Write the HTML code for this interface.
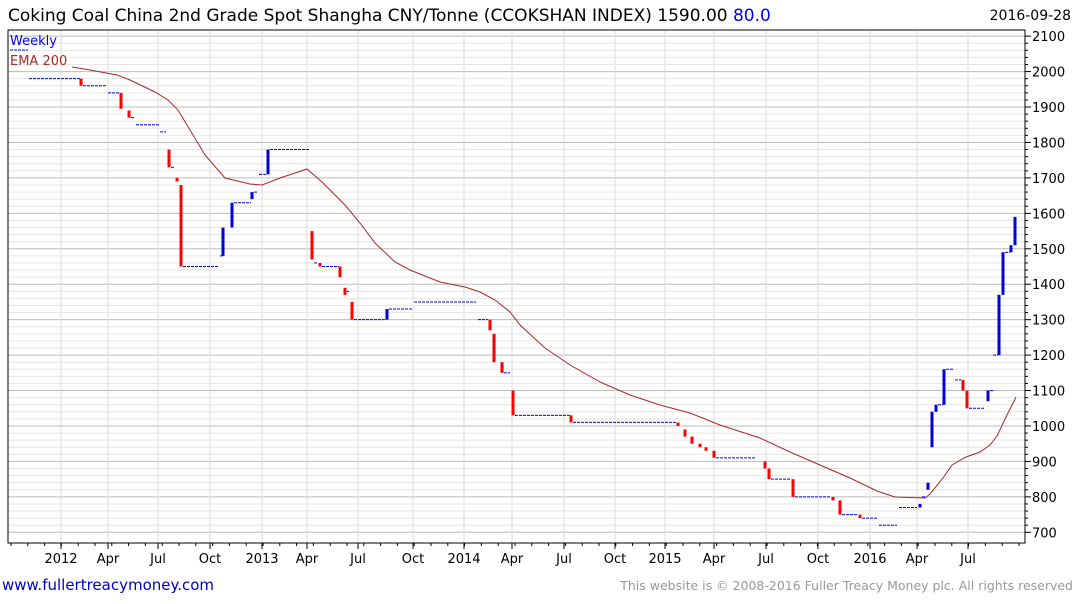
<!DOCTYPE html>
<html><head><meta charset="utf-8"><style>
body{margin:0;background:#fff;width:1075px;height:600px;overflow:hidden;font-family:"DejaVu Sans",sans-serif}
</style></head><body>
<svg id="s" width="1075" height="600" xmlns="http://www.w3.org/2000/svg" font-family="DejaVu Sans, sans-serif">
<text x="8" y="21" font-size="17" fill="#000">Coking Coal China 2nd Grade Spot Shangha CNY/Tonne (CCOKSHAN INDEX) 1590.00 <tspan fill="#0000ff">80.0</tspan></text>
<text x="1071" y="20" font-size="14" fill="#000" text-anchor="end">2016-09-28</text>
<text x="2" y="590" font-size="15" fill="#0000cc">www.fullertreacymoney.com</text>
<text x="1073" y="590" font-size="12.5" fill="#999" text-anchor="end">This website is © 2008-2016 Fuller Treacy Money plc. All rights reserved</text>
<g id="g"></g>
</svg>
<script>
var g=document.getElementById('g'),h='';
function Y(v){return 532.3-(v-700)*0.3544;}
var L=8,R=1025,T=30,B=543;
for(var v=700;v<=2100;v+=20){var y=Y(v);var maj=v%100==0;
h+='<line x1="'+L+'" x2="'+R+'" y1="'+y+'" y2="'+y+'" stroke="'+(maj?'#bbb':'#e6e6e6')+'" stroke-width="1"/>';
h+='<line x1="'+R+'" x2="'+(R+(maj?6:3))+'" y1="'+y+'" y2="'+y+'" stroke="#000"/>';
if(maj)h+='<text x="1032" y="'+(y+5)+'" font-size="13">'+v+'</text>';}
var xt=[[61,'2012'],[108,'Apr'],[158,'Jul'],[210,'Oct'],[262,'2013'],[307,'Apr'],[358,'Jul'],[413,'Oct'],[464,'2014'],[512,'Apr'],[564,'Jul'],[615,'Oct'],[665,'2015'],[714,'Apr'],[766,'Jul'],[818,'Oct'],[870,'2016'],[917,'Apr'],[968,'Jul']];
xt.forEach(function(t){h+='<line x1="'+t[0]+'" x2="'+t[0]+'" y1="'+T+'" y2="'+B+'" stroke="#ddd"/>';
h+='<line x1="'+t[0]+'" x2="'+t[0]+'" y1="'+B+'" y2="'+(B+6)+'" stroke="#000"/>';
h+='<text x="'+t[0]+'" y="563" font-size="13" text-anchor="middle">'+t[1]+'</text>';});
for(var x=11;x<1025;x+=16.8)h+='<line x1="'+x+'" x2="'+x+'" y1="'+B+'" y2="'+(B+3)+'" stroke="#000"/>';
h+='<rect x="'+L+'" y="'+T+'" width="'+(R-L)+'" height="'+(B-T)+'" fill="none" stroke="#000"/>';
h+='<text x="10" y="45" font-size="13" fill="#0000ff">Weekly</text><line x1="10" x2="28" y1="50" y2="50" stroke="#0000ff" stroke-dasharray="3,1"/>';
h+='<text x="10" y="65" font-size="13" fill="#a52a2a">EMA 200</text>';
var D=[[29,80,1980],[83,107,1960],[108,119,1940],[131,135,1870],[136,159,1850],[160,166,1830],[171,175,1730],[183,219,1450],[220,223,1480],[234,251,1630],[254,257,1660],[259,266,1710],[270,310,1780],[314,318,1460],[322,339,1450],[347,349,1380],[354,385,1300],[389,412,1330],[414,476,1350],[478,488,1300],[504,510,1150],[515,570,1030],[573,676,1010],[716,755,910],[771,790,850],[795,830,800],[842,858,750],[862,877,740],[879,897,720],[899,917,770],[922,927,800],[938,943,1060],[946,953,1160],[955,961,1130],[969,985,1050],[990,993,1100],[993,998,1200],[1005,1010,1490]];
D.forEach(function(d){h+='<line x1="'+d[0]+'" x2="'+d[1]+'" y1="'+Y(d[2])+'" y2="'+Y(d[2])+'" stroke="#0000ff" stroke-dasharray="3,1"/>';});
var Bs=[[81,1980,1960],[121,1940,1895],[129,1890,1870],[169,1780,1730],[177,1700,1690],[181,1680,1450],[223,1480,1560],[232,1560,1630],[252,1640,1660],[268,1710,1780],[312,1550,1470],[320,1460,1450],[340,1450,1420],[345,1390,1370],[352,1350,1300],[387,1300,1330],[490,1300,1270],[494,1260,1180],[502,1180,1150],[513,1100,1030],[571,1030,1010],[678,1010,1000],[685,990,970],[692,970,950],[700,950,940],[706,940,930],[714,930,910],[765,900,880],[769,880,850],[793,850,800],[833,800,790],[840,790,750],[860,750,740],[920,770,780],[928,820,840],[932,940,1040],[936,1040,1060],[944,1060,1160],[963,1130,1100],[967,1100,1050],[988,1070,1100],[999,1200,1370],[1003,1370,1490],[1011,1490,1510],[1015,1510,1590]];
Bs.forEach(function(b){var c=b[2]>b[1]?'#0000dd':'#ff0000';var y1=Y(Math.max(b[1],b[2])),y2=Y(Math.min(b[1],b[2]));
h+='<rect x="'+(b[0]-1.5)+'" y="'+y1+'" width="3" height="'+Math.max(y2-y1,3)+'" fill="'+c+'"/>';});
var E=[[72,67],[90,70],[117,75],[130,80],[155,92],[168,100],[178,110],[190,130],[205,155],[225,178],[250,184],[262,185],[280,178],[307,169],[322,182],[345,205],[360,223],[375,243],[395,262],[410,270],[440,282],[465,287],[480,292],[495,300],[510,312],[520,325],[545,348],[570,365],[600,382],[630,395],[660,405],[690,413],[720,425],[760,438],[790,452],[820,465],[850,478],[877,491],[895,497],[925,498],[930,494],[943,478],[952,465],[966,457],[980,452],[990,445],[997,436],[1005,419],[1016,397]];
h+='<polyline fill="none" stroke="#a52a2a" stroke-width="1" points="'+E.map(function(p){return p.join(',')}).join(' ')+'"/>';
g.innerHTML=h;
</script>
</body></html>
